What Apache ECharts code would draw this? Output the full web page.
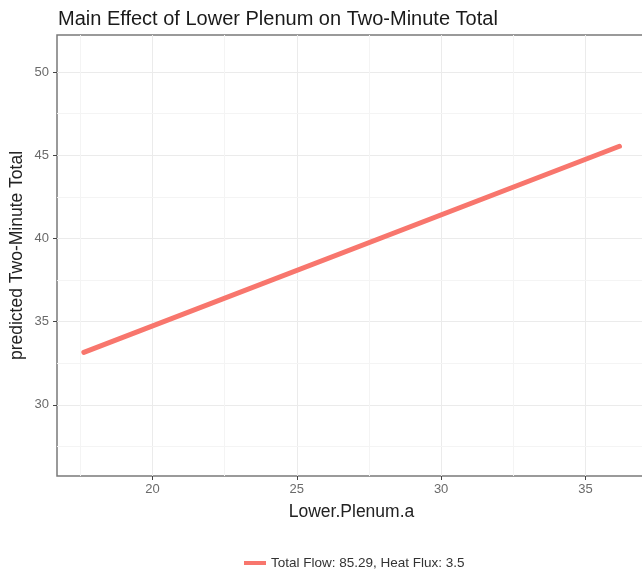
<!DOCTYPE html>
<html><head><meta charset="utf-8">
<script src="https://cdn.jsdelivr.net/npm/echarts@6/dist/echarts.min.js"></script>
<style>html,body{margin:0;padding:0;background:#fff;}#c{width:642px;height:570px;}</style>
</head><body><div id="c"></div>
<script>
const lowerPlenum = [17.62, 36.18];
const predicted = [33.15, 45.54];
const xTicks = [20, 25, 30, 35];
const yTicks = [30, 35, 40, 45, 50];
const xMinor = [17.5, 22.5, 27.5, 32.5];
const yMinor = [27.5, 32.5, 37.5, 42.5, 47.5];
const xRange = [16.69, 37.1];
const yRange = [25.72, 52.23];
const seriesName = 'Total Flow: 85.29, Heat Flux: 3.5';

const font = 'Liberation Sans, Arial, sans-serif';
const chart = echarts.init(document.getElementById('c'), null, {renderer: 'canvas'});
const minorLines = xMinor.map(v => ({xAxis: v})).concat(yMinor.map(v => ({yAxis: v})));
chart.setOption({
  animation: false,
  backgroundColor: '#fff',
  title: {
    text: 'Main Effect of Lower Plenum on Two-Minute Total',
    left: 53, top: 4,
    textStyle: {fontFamily: font, fontSize: 20, fontWeight: 'normal', color: '#1a1a1a'}
  },
  grid: {left: 57, top: 35, right: -4, bottom: 94, show: true, borderColor: '#7a7a7a', borderWidth: 1.5,
    containLabel: false, outerBoundsMode: 'none'},
  legend: {
    left: 239, top: 551,
    icon: 'rect', itemWidth: 22, itemHeight: 4, itemGap: 9,
    textStyle: {fontFamily: font, fontSize: 13.5, color: '#333'},
    data: [seriesName]
  },
  xAxis: {
    type: 'value', min: xRange[0], max: xRange[1], splitNumber: 5,
    name: 'Lower.Plenum.a', nameLocation: 'middle', nameGap: 27, nameMoveOverlap: false,
    nameTextStyle: {fontFamily: font, fontSize: 17.5, color: '#222'},
    axisLine: {show: false},
    axisTick: {show: true, length: 4, customValues: xTicks, lineStyle: {color: '#444'}},
    axisLabel: {customValues: xTicks, fontFamily: font, fontSize: 13, color: '#6a6a6a', margin: 7},
    splitLine: {show: true, lineStyle: {color: '#ebebeb', width: 1}}
  },
  yAxis: {
    type: 'value', min: yRange[0], max: yRange[1], splitNumber: 5,
    name: 'predicted Two-Minute Total', nameLocation: 'middle', nameGap: 31, nameMoveOverlap: false,
    nameTextStyle: {fontFamily: font, fontSize: 17.5, color: '#222'},
    axisLine: {show: false},
    axisTick: {show: true, length: 4, customValues: yTicks, lineStyle: {color: '#444'}},
    axisLabel: {customValues: yTicks, fontFamily: font, fontSize: 13, color: '#6a6a6a', margin: 8},
    splitLine: {show: true, lineStyle: {color: '#ebebeb', width: 1}}
  },
  series: [
    {
      type: 'line', name: 'minor', data: [], silent: true, z: 0,
      markLine: {silent: true, z: 0, symbol: ['none', 'none'], label: {show: false},
        lineStyle: {color: '#f4f4f4', width: 1, type: 'solid'}, data: minorLines}
    },
    {
      type: 'line', name: seriesName, z: 5,
      data: lowerPlenum.map((x, i) => [x, predicted[i]]),
      showSymbol: false, symbol: 'none',
      lineStyle: {color: '#F8766D', width: 5, cap: 'round'},
      itemStyle: {color: '#F8766D'}
    }
  ]
});
</script></body></html>
